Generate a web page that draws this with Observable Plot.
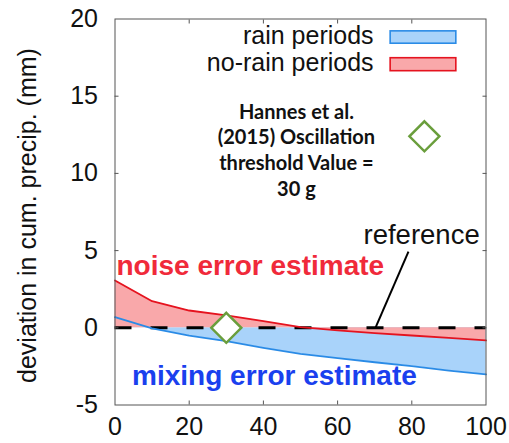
<!DOCTYPE html>
<html><head><meta charset="utf-8">
<script src="https://cdn.jsdelivr.net/npm/d3@7"></script>
<script src="https://cdn.jsdelivr.net/npm/@observablehq/plot@0.6"></script>
<style>body{margin:0;background:#fff}</style>
</head><body><div id="chart"></div>
<script>
// Oscillation threshold (g)
const thresholds = [0, 10, 20, 30, 40, 50, 60, 70, 80, 90, 100];
// deviation in cumulative precipitation (mm)
const noRainPeriods = [3.06, 1.72, 1.12, 0.8, 0.43, 0.04, -0.17, -0.35, -0.5, -0.65, -0.82];
const rainPeriods = [0.69, -0.04, -0.5, -0.87, -1.3, -1.69, -1.97, -2.23, -2.48, -2.77, -3.02];
const xTicks = [0, 20, 40, 60, 80, 100];
const yTicks = [-5, 0, 5, 10, 15, 20];
const seriesNames = ["rain periods", "no-rain periods"];
const yTitle = "deviation in cum. precip. (mm)";
const hannesThreshold = [{x: 30, y: 0}];
const hannesKey = [{x: 83.4, y: 12.4}];
const hannesText = "Hannes et al.\n(2015) Oscillation\nthreshold Value =\n30 g";

const table = thresholds.map((x, i) => ({x, noRain: noRainPeriods[i], rain: rainPeriods[i]}));

const RED = "#e5131f", REDFILL = "#f9a8aa", BLUE = "#2a8be6", BLUEFILL = "#a9d3fa";
const legendRows = [
  {label: seriesNames[0], y: 18.93, y1: 19.2, y2: 18.4, fill: BLUEFILL, stroke: BLUE},
  {label: seriesNames[1], y: 17.15, y1: 17.46, y2: 16.62, fill: REDFILL, stroke: RED}
];

const chart = Plot.plot({
  width: 509, height: 443,
  marginLeft: 114.5, marginRight: 23.5, marginTop: 18.5, marginBottom: 38.5,
  style: {fontFamily: "Liberation Sans, Arial, sans-serif", background: "#fff", color: "#111"},
  x: {domain: [0, 100]},
  y: {domain: [-5, 20]},
  marks: [
    Plot.areaY(table, {x: "x", y1: 0, y2: "rain", fill: BLUEFILL}),
    Plot.areaY(table, {x: "x", y1: 0, y2: "noRain", fill: REDFILL}),
    Plot.ruleY([0], {stroke: "#000", strokeWidth: 3, strokeDasharray: "17,19"}),
    Plot.line(table, {x: "x", y: "rain", stroke: BLUE, strokeWidth: 1.8}),
    Plot.line(table, {x: "x", y: "noRain", stroke: RED, strokeWidth: 1.8}),
    Plot.link([{x1: 79.1, y1: 4.94, x2: 70.2, y2: 0}], {x1: "x1", y1: "y1", x2: "x2", y2: "y2", stroke: "#000", strokeWidth: 2}),
    Plot.dot(hannesThreshold, {x: "x", y: "y", symbol: "diamond2", r: 13.5, fill: "#fff", stroke: "#6a9e3c", strokeWidth: 2.5}),
    Plot.dot(hannesKey, {x: "x", y: "y", symbol: "diamond2", r: 13.5, fill: "#fff", stroke: "#6a9e3c", strokeWidth: 2.5}),
    Plot.text([hannesText], {x: 48.9, y: 11.58, text: d => d, fontFamily: "Lato, sans-serif", fontWeight: "bold", fontSize: 20, lineHeight: 1.28, fill: "#111"}),
    Plot.text(["noise error estimate"], {x: 0.4, y: 3.97, text: d => d, textAnchor: "start", fontWeight: "bold", fontSize: 28, fill: "#f02a3a"}),
    Plot.text(["mixing error estimate"], {x: 4.6, y: -3.15, text: d => d, textAnchor: "start", fontWeight: "bold", fontSize: 28, fill: "#1a40ee"}),
    Plot.text(["reference"], {x: 98.3, y: 6.03, text: d => d, textAnchor: "end", fontSize: 27.5, fill: "#111"}),
    Plot.rect(legendRows, {x1: 74.3, x2: 92.0, y1: "y1", y2: "y2", fill: "fill", stroke: "stroke", strokeWidth: 1.6}),
    Plot.text(legendRows, {x: 69.7, y: "y", text: "label", textAnchor: "end", fontSize: 25, fill: "#111"}),
    Plot.frame({stroke: "#555", strokeWidth: 1}),
    Plot.axisX({ticks: xTicks.slice(1, -1), tickSize: -4, text: null, stroke: "#555"}),
    Plot.axisX({anchor: "top", ticks: xTicks.slice(1, -1), tickSize: -4, text: null, label: null, stroke: "#555"}),
    Plot.axisY({ticks: yTicks.slice(1, -1), tickSize: -4, text: null, label: null, stroke: "#555"}),
    Plot.axisY({anchor: "right", ticks: yTicks.slice(1, -1), tickSize: -4, text: null, label: null, stroke: "#555"}),
    Plot.axisX({ticks: xTicks, tickSize: 0, tickPadding: 12.5, tickFormat: d => String(d), fontSize: 25, label: null}),
    Plot.axisY({ticks: yTicks, tickSize: 0, tickPadding: 17, tickFormat: d => String(d), fontSize: 25, label: null}),
    Plot.text([yTitle], {x: 0, y: 7.27, text: d => d, rotate: -90, dx: -87.5, fontSize: 25, fill: "#111"})
  ]
});
document.getElementById("chart").appendChild(chart);
</script></body></html>
